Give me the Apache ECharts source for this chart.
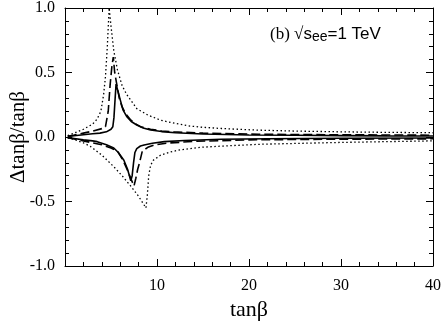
<!DOCTYPE html>
<html>
<head>
<meta charset="utf-8">
<script src="https://cdn.jsdelivr.net/npm/echarts@6/dist/echarts.min.js"></script>
<style>
  html, body { margin: 0; padding: 0; background: #fff; }
  #chart { width: 443px; height: 329px; }
</style>
</head>
<body>
<div id="chart"></div>
<script>
// tan(beta) ticks
const xTicks = [10, 20, 30, 40];
const yTicks = [-1.0, -0.5, 0.0, 0.5, 1.0];

// upper branches  [tanβ, Δtanβ/tanβ]
const solidUp = [[0.3,0.004],[1,0.01],[2,0.018],[3,0.025],[3.8,0.03],[4.5,0.04],[5.0,0.06],[5.2,0.08],[5.32,0.15],[5.45,0.3],[5.55,0.41],[5.7,0.37],[6.0,0.29],[6.3,0.21],[6.7,0.16],[7.2,0.12],[7.8,0.093],[8.5,0.07],[9.3,0.054],[10.5,0.042],[12,0.033],[15,0.023],[20,0.016],[25,0.013],[30,0.011],[35,0.009],[40,0.008]];
const dashUp = [[0.3,0.005],[1,0.015],[2,0.03],[3,0.045],[4,0.065],[4.4,0.08],[4.7,0.2],[4.9,0.4],[5.1,0.55],[5.25,0.62],[5.4,0.5],[5.6,0.42],[5.9,0.3],[6.2,0.235],[6.6,0.18],[7.1,0.135],[7.6,0.105],[8.2,0.08],[9.3,0.06],[10.5,0.047],[11.8,0.04],[15,0.03],[21,0.021],[30,0.017],[40,0.014]];
const dotUp = [[0.3,0.01],[1,0.03],[2,0.06],[3,0.1],[3.5,0.14],[3.9,0.2],[4.2,0.33],[4.4,0.47],[4.6,0.7],[4.8,1.0],[5.0,0.86],[5.3,0.67],[5.7,0.52],[6.2,0.4],[6.7,0.33],[7.8,0.22],[9,0.17],[10.4,0.13],[12,0.105],[13.6,0.085],[15,0.075],[17,0.066],[21,0.053],[25,0.046],[30,0.04],[35,0.036],[40,0.033]];

// lower branches
const solidLo = [[0.3,-0.005],[1,-0.012],[2,-0.022],[3,-0.03],[3.5,-0.036],[4.5,-0.06],[5.3,-0.085],[5.8,-0.12],[6.4,-0.18],[6.8,-0.25],[7.0,-0.3],[7.15,-0.34],[7.3,-0.3],[7.45,-0.2],[7.6,-0.12],[7.8,-0.09],[8.2,-0.07],[8.6,-0.062],[9.5,-0.048],[10.8,-0.036],[13,-0.027],[17,-0.018],[22,-0.013],[30,-0.01],[40,-0.008]];
const dashLo = [[0.3,-0.005],[1,-0.015],[2,-0.03],[3,-0.045],[4,-0.06],[5,-0.085],[5.7,-0.11],[6.3,-0.18],[6.8,-0.26],[7.2,-0.33],[7.5,-0.38],[7.7,-0.32],[7.9,-0.25],[8.1,-0.2],[8.4,-0.11],[9.0,-0.08],[9.7,-0.062],[11,-0.048],[14,-0.034],[20,-0.022],[30,-0.017],[40,-0.014]];
const dotLo = [[0.3,-0.005],[1,-0.02],[2,-0.045],[2.8,-0.075],[4,-0.14],[5.3,-0.23],[6.2,-0.3],[7.2,-0.385],[8,-0.46],[8.8,-0.55],[8.95,-0.45],[9.1,-0.3],[9.3,-0.22],[9.6,-0.18],[10.4,-0.14],[11.5,-0.115],[12.5,-0.1],[14.7,-0.08],[17.2,-0.07],[21.3,-0.056],[30,-0.042],[40,-0.03]];

const serif = "Liberation Serif";
const sans = "Liberation Sans";

const mkLine = (data, type, width) => ({
  type: "line",
  data: data,
  showSymbol: false,
  symbol: "none",
  silent: true,
  lineStyle: { color: "#000", width: width, type: type },
});

const axisBase = {
  axisLine: { show: true, onZero: false, lineStyle: { color: "#000", width: 1 } },
  axisTick: { show: true, inside: true, length: 7, lineStyle: { color: "#000" } },
  minorTick: { show: true, splitNumber: 5, length: 4, lineStyle: { color: "#000" } },
  splitLine: { show: false },
};

const chart = echarts.init(document.getElementById("chart"));
chart.setOption({
  animation: false,
  backgroundColor: "#fff",
  grid: { left: 65, right: 10, top: 8, bottom: 63, containLabel: false, outerBoundsMode: "none" },
  xAxis: [
    {
      ...axisBase,
      type: "value",
      min: 0,
      max: 40,
      interval: 10,
      position: "bottom",
      name: "tanβ",
      nameLocation: "middle",
      nameGap: 33,
      nameMoveOverlap: false,
      nameTextStyle: { fontFamily: serif, fontSize: 22, color: "#000" },
      axisLabel: {
        fontFamily: serif,
        fontSize: 16,
        color: "#000",
        margin: 12,
        formatter: (v) => (xTicks.includes(v) ? String(v) : ""),
      },
    },
    {
      ...axisBase,
      type: "value",
      min: 0,
      max: 40,
      interval: 10,
      position: "top",
      axisLabel: { show: false },
    },
  ],
  yAxis: [
    {
      ...axisBase,
      type: "value",
      min: -1,
      max: 1,
      interval: 0.5,
      position: "left",
      name: "Δtanβ/tanβ",
      nameLocation: "middle",
      nameGap: 36,
      nameMoveOverlap: false,
      nameTextStyle: { fontFamily: serif, fontSize: 21, color: "#000" },
      axisLabel: {
        fontFamily: serif,
        fontSize: 16,
        color: "#000",
        margin: 10,
        formatter: (v) => (yTicks.some((t) => Math.abs(t - v) < 1e-9) ? v.toFixed(1) : ""),
      },
    },
    {
      ...axisBase,
      type: "value",
      min: -1,
      max: 1,
      interval: 0.5,
      position: "right",
      axisLabel: { show: false },
    },
  ],
  graphic: [
    {
      type: "text",
      left: 270,
      top: 26,
      style: {
        text: "{a|(b) √}{b|s}{c|ee}{b|=1 TeV}",
        rich: {
          a: { fontFamily: serif, fontSize: 17, fill: "#000" },
          b: { fontFamily: sans, fontSize: 17, fill: "#000" },
          c: { fontFamily: sans, fontSize: 14, fill: "#000", padding: [6, 0, 0, 0] },
        },
      },
    },
  ],
  series: [
    mkLine(dotUp, [1.5, 2.5], 1.3),
    mkLine(dotLo, [1.5, 2.5], 1.3),
    mkLine(dashUp, [9, 4], 1.6),
    mkLine(dashLo, [9, 4], 1.6),
    mkLine(solidUp, "solid", 1.6),
    mkLine(solidLo, "solid", 1.6),
  ],
});
</script>
</body>
</html>
